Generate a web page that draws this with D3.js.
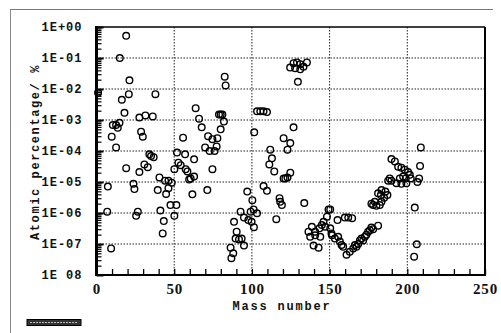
<!DOCTYPE html>
<html>
<head>
<meta charset="utf-8">
<script src="https://cdn.jsdelivr.net/npm/d3@7/dist/d3.min.js"></script>
<style>
  body { margin: 0; background: #fff; }
</style>
</head>
<body>
<script>
// mass number of each nuclide
const mass = [
  1, 19.1, 15.0, 21.2, 20.8, 16.3, 37.9, 18.0, 27.6, 31.5, 36.2, 10.5, 12.6, 13.7, 14.8,
  9.8, 28.7, 29.8, 12.6, 34, 35.1, 36.8, 51.8, 19.1, 27.6, 30.8, 33, 40.5, 44.1, 46.3,
  48.4, 50.1, 46.3, 39.4, 44.8, 7.3, 23.8, 24.4, 47.6, 50.1, 6.9, 26.6, 25.5, 41.1, 43.3,
  42.6, 9.4,
  82.5, 83.1, 63.8, 66, 78.8, 79.9, 81, 82, 67.7, 79.9, 55.7, 71.8, 74.6, 77.8, 69.9,
  72.8, 76, 77.3, 57, 52.7, 54.2, 57.4, 58.5, 62.8, 74.6, 60.6, 59.6, 62.8, 61.7, 71.3,
  51.4, 97, 100.3, 92.7, 94.9, 97.7, 99.8, 99.2, 101.3, 88.5, 90.2, 89.5, 91.7, 93.4,
  94.9, 86.3, 88, 86.8,
  126.8, 129, 131.1, 133.2, 135.4, 124.6, 127.8, 131.1, 129.6, 103.3, 105.4, 107.5, 109.7,
  101.5, 126.8, 120.4, 124.7, 122.9, 111.8, 112.9, 111.2, 114.4, 124.7, 121.5, 122.9,
  120.4, 107.5, 109.7, 117.8, 118.2, 119.3, 133.7, 103.3, 101.1, 115.7,
  149.3, 150.4, 148.3, 146.1, 145, 147.2, 143.5, 140.7, 138.6, 136.4, 137.5, 140.7, 144,
  139.7, 142.9, 150.4, 151.5,
  189.8, 192, 194.1, 196.2, 198.4, 200.5, 201.6, 197.3, 195.2, 193, 188.7, 189.8, 187.7,
  199.4, 196.2, 208.7, 208.2, 207.6, 206.5, 199, 202.2, 204.8, 206.1, 204.4,
  183.4, 185.9, 187.2, 185.1, 183, 181.2, 179.1, 176.9, 178, 180.1, 182.3, 183.4,
  155.1, 159.8, 162, 164.5, 151.2, 153.4, 155.5, 156.6, 157.7, 158.7,
  160.9, 163, 165.2, 166.3, 168.4, 169.5, 170.5, 172.7, 173.7, 175.9, 176.9, 181.2,
  167.3, 171.6, 174.8, 178
];

// atomic percentage (%)
const percent = [
  7.6e-3, 5.2e-1, 1.0e-1, 1.9e-2, 6.8e-3, 4.5e-3, 6.8e-3, 1.7e-3, 1.2e-3, 1.4e-3, 1.3e-3,
  6.9e-4, 6.9e-4, 5.6e-4, 8.1e-4,
  2.9e-4, 4.2e-4, 2.9e-4, 1.3e-4, 7.8e-5, 6.9e-5, 6.3e-5, 8.9e-5, 2.8e-5, 2.1e-5, 3.7e-5,
  3.0e-5, 1.4e-5, 1.1e-5, 1.1e-5,
  9.5e-6, 2.6e-5, 6.3e-6, 5.5e-6, 4.1e-6, 7.1e-6, 8.7e-6, 5.9e-6, 1.8e-6, 8.1e-7, 1.1e-6,
  1.1e-6, 8.1e-7, 1.2e-6, 5.5e-7,
  2.2e-7, 7.2e-8,
  2.5e-2, 1.3e-2, 2.4e-3, 1.1e-3, 1.5e-3, 1.5e-3, 1.5e-3, 8.9e-4, 5.8e-4, 5.0e-4, 2.7e-4,
  3.0e-4, 2.4e-4, 2.6e-4, 1.3e-4,
  1.0e-4, 1.0e-4, 1.4e-4, 7.8e-5, 4.2e-5, 3.5e-5, 2.6e-5, 2.2e-5, 5.4e-5, 2.6e-5, 1.3e-5,
  1.2e-5, 1.5e-5, 4.0e-6, 5.5e-6,
  1.8e-6, 4.9e-6, 2.6e-6, 1.1e-6, 7.1e-7, 5.9e-7, 5.2e-7, 1.1e-6, 3.5e-7, 5.2e-7, 2.5e-7,
  1.5e-7, 1.4e-7, 1.5e-7,
  8.9e-8, 7.6e-8, 5.0e-8, 3.5e-8,
  6.8e-2, 7.2e-2, 6.3e-2, 5.2e-2, 7.2e-2, 4.9e-2, 4.7e-2, 4.3e-2, 1.7e-2, 1.9e-3, 1.9e-3,
  1.9e-3, 1.8e-3,
  4.0e-4, 5.8e-4, 2.6e-4, 1.8e-4, 1.1e-4, 1.1e-4, 5.8e-5, 3.7e-5, 2.2e-5, 2.0e-5, 1.3e-5,
  1.4e-5,
  1.3e-5, 7.4e-6, 5.2e-6, 3.0e-6, 2.3e-6, 1.8e-6, 2.1e-6, 9.8e-7, 1.3e-6, 6.3e-7,
  1.3e-6, 1.3e-6, 7.6e-7, 5.2e-7, 4.1e-7, 3.6e-7, 3.2e-7, 2.5e-7, 3.6e-7, 2.5e-7, 1.7e-7,
  1.9e-7, 1.7e-7,
  8.9e-8, 7.6e-8, 3.2e-7, 1.9e-7,
  5.5e-5, 4.6e-5, 3.1e-5, 2.9e-5, 2.5e-5, 2.1e-5, 1.7e-5, 1.5e-5, 1.3e-5, 9.1e-6, 1.3e-5,
  1.1e-5, 1.1e-5,
  9.1e-6, 8.7e-6, 1.3e-4, 3.3e-5, 1.3e-5, 1.0e-5, 1.3e-5, 1.3e-5, 1.5e-6, 9.8e-8, 3.9e-8,
  5.5e-6, 4.9e-6, 3.8e-6, 3.1e-6, 3.8e-6, 4.3e-6, 2.3e-6, 2.0e-6, 1.8e-6, 1.7e-6, 1.8e-6,
  2.3e-6,
  5.9e-7, 7.1e-7, 7.1e-7, 6.8e-7, 2.2e-7, 1.5e-7, 1.7e-7, 1.2e-7, 9.3e-8, 8.1e-8,
  4.5e-8, 5.6e-8, 7.2e-8, 9.3e-8, 1.0e-7, 1.3e-7, 1.5e-7, 1.7e-7, 2.0e-7, 2.8e-7, 3.4e-7,
  3.9e-7,
  8.1e-8, 1.3e-7, 2.5e-7, 3.0e-7
];

const yDecades = [1e-8, 1e-7, 1e-6, 1e-5, 1e-4, 1e-3, 1e-2, 1e-1, 1];
const yLabels = ["1E 08", "1E-07", "1E-06", "1E-05", "1E-04", "1E-03", "1E-02", "1E-01", "1E+00"];
const xMajor = [0, 50, 100, 150, 200, 250];
const xLabels = ["0", "50", "100", "150", "200", "250"];

const width = 501;
const height = 333;
const marginTop = 27;
const marginLeft = 96.5;
const marginRight = 16;
const marginBottom = 58;

const plotW = width - marginLeft - marginRight;
const plotH = height - marginTop - marginBottom;

const svg = d3.select("body")
  .append("svg")
  .attr("width", width)
  .attr("height", height);

// outer frame of the scanned figure
svg.append("line")
  .attr("x1", 10).attr("x2", 493).attr("y1", 9.5).attr("y2", 9.5)
  .attr("stroke", "#777").attr("stroke-width", 1);
svg.append("line")
  .attr("x1", 10.5).attr("x2", 10.5).attr("y1", 9).attr("y2", 333)
  .attr("stroke", "#888").attr("stroke-width", 1);

// small bar at bottom left
svg.append("rect")
  .attr("x", 27).attr("y", 319.5).attr("width", 54).attr("height", 6)
  .attr("fill", "#333").attr("stroke", "#000").attr("stroke-width", 1);
svg.append("line")
  .attr("x1", 30).attr("x2", 78).attr("y1", 322.5).attr("y2", 322.5)
  .attr("stroke", "#bbb").attr("stroke-dasharray", "2,1");

const g = svg.append("g")
  .attr("transform", "translate(" + marginLeft + "," + marginTop + ")");

const x = d3.scaleLinear().domain([0, 250]).range([0, plotW]);
const y = d3.scaleLog().domain([1e-8, 1]).range([plotH, 0]);

// grid
g.selectAll(".hgrid")
  .data(yDecades.slice(1, -1))
  .join("line")
  .attr("x1", 0).attr("x2", plotW)
  .attr("y1", d => y(d)).attr("y2", d => y(d))
  .attr("stroke", "#222").attr("stroke-width", 1)
  .attr("stroke-dasharray", "1.5,1.5");
g.selectAll(".vgrid")
  .data(xMajor.slice(1, -1))
  .join("line")
  .attr("x1", d => x(d)).attr("x2", d => x(d))
  .attr("y1", 0).attr("y2", plotH)
  .attr("stroke", "#222").attr("stroke-width", 1)
  .attr("stroke-dasharray", "1.5,1.5");

const isDecade = d => Math.abs(Math.log10(d) - Math.round(Math.log10(d))) < 1e-6;

// y axis (log, ticks inside)
const yAxis = g.append("g")
  .call(d3.axisLeft(y)
    .tickValues(y.ticks())
    .tickSize(-5)
    .tickPadding(14)
    .tickFormat(d => isDecade(d) ? yLabels[yDecades.findIndex(v => Math.abs(v - d) / v < 1e-6)] : ""));
yAxis.select(".domain").remove();
yAxis.selectAll(".tick line")
  .attr("stroke", "#000")
  .attr("stroke-width", d => isDecade(d) ? 2 : 1.2)
  .attr("x2", d => isDecade(d) ? 7 : 5);
yAxis.selectAll(".tick text")
  .attr("font-family", "'Liberation Mono', 'DejaVu Sans Mono', monospace")
  .attr("font-weight", "bold")
  .attr("font-size", 12)
  .attr("letter-spacing", 1)
  .attr("fill", "#111");

// x axis (ticks inside)
const xAxis = g.append("g")
  .attr("transform", "translate(0," + plotH + ")")
  .call(d3.axisBottom(x)
    .tickValues(d3.range(0, 251, 10))
    .tickSize(-6)
    .tickPadding(8)
    .tickFormat(d => d % 50 === 0 ? xLabels[xMajor.indexOf(d)] : ""));
xAxis.select(".domain").remove();
xAxis.selectAll(".tick line")
  .attr("stroke", "#000")
  .attr("stroke-width", 1.3);
xAxis.selectAll(".tick text")
  .attr("font-family", "'Liberation Serif', 'DejaVu Serif', serif")
  .attr("font-weight", "bold")
  .attr("font-size", 15)
  .attr("letter-spacing", 0.8)
  .attr("fill", "#111");

// plot frame
g.append("line").attr("x1", 0).attr("x2", 0).attr("y1", -1).attr("y2", plotH + 1)
  .attr("stroke", "#000").attr("stroke-width", 3);
g.append("line").attr("x1", -1.5).attr("x2", plotW + 1).attr("y1", plotH).attr("y2", plotH)
  .attr("stroke", "#000").attr("stroke-width", 2);
g.append("line").attr("x1", plotW).attr("x2", plotW).attr("y1", 0).attr("y2", plotH)
  .attr("stroke", "#000").attr("stroke-width", 2);
g.append("line").attr("x1", 0).attr("x2", plotW).attr("y1", 0).attr("y2", 0)
  .attr("stroke", "#000").attr("stroke-width", 1.5);

// data points
const points = mass.map((m, i) => ({ m: m, p: percent[i] }));
g.selectAll(".pt")
  .data(points)
  .join("circle")
  .attr("cx", d => x(d.m))
  .attr("cy", d => y(d.p))
  .attr("r", 3.3)
  .attr("fill", "none")
  .attr("stroke", "#000")
  .attr("stroke-width", 1.4);

// axis titles
svg.append("text")
  .attr("x", 282)
  .attr("y", 310)
  .attr("text-anchor", "middle")
  .attr("font-family", "'Liberation Mono', 'DejaVu Sans Mono', monospace")
  .attr("font-weight", "bold")
  .attr("font-size", 12)
  .attr("letter-spacing", 1.8)
  .attr("fill", "#111")
  .text("Mass number");

svg.append("text")
  .attr("transform", "translate(39,152) rotate(-90)")
  .attr("text-anchor", "middle")
  .attr("font-family", "'Liberation Mono', 'DejaVu Sans Mono', monospace")
  .attr("font-weight", "bold")
  .attr("font-size", 12)
  .attr("letter-spacing", 1.6)
  .attr("fill", "#111")
  .text("Atomic percentage/ %");
</script>
</body>
</html>
